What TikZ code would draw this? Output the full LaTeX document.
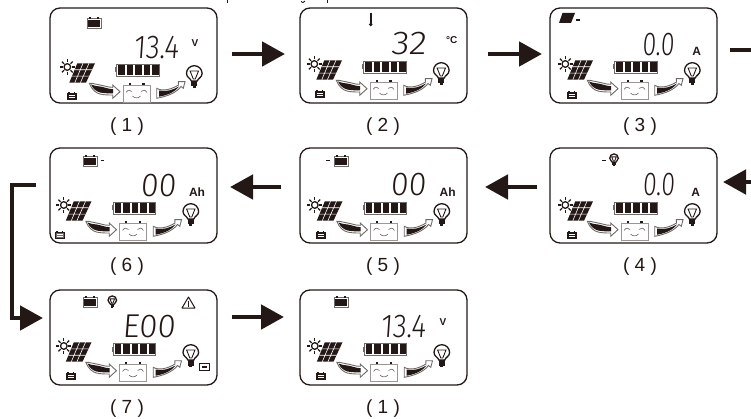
\documentclass[tikz,border=0pt]{standalone}
\usepackage{fontspec}
\usepackage{graphicx}
\setmainfont{Liberation Sans}
\newfontfamily\lcdfont[UprightFont={* Light},FakeSlant=0.08]{Fira Sans}
\usetikzlibrary{arrows.meta,calc}
\definecolor{ink}{HTML}{231815}
\definecolor{soft}{HTML}{6E6A68}
\definecolor{pale}{HTML}{9A9694}
\newcommand\rdg[2]{\scalebox{#1}[1]{#2}}
\tikzset{
  x=1pt,y=-1pt,
  panel/.style={draw=ink,line width=1.3pt,rounded corners=10pt,minimum width=167pt,minimum height=95pt,inner sep=0pt,outer sep=0pt,anchor=north west},
  flow/.style={draw=ink,line width=4.8pt,-{Triangle[length=23pt,width=24pt]}},
  flowplain/.style={draw=ink,line width=4.8pt},
  steplabel/.style={font=\fontsize{19}{19}\selectfont,text=ink,inner sep=0pt},
  reading/.style={font=\lcdfont\fontsize{33}{33}\selectfont,text=ink,inner sep=0pt,text height=23pt,text depth=0pt},
  unitlabel/.style={font=\bfseries\fontsize{12}{12}\selectfont,text=ink,inner sep=0pt},
  tickdash/.style={draw=ink,line width=1.2pt},
}
% bulb centred on the globe
\newcommand\bulbicon[3]{%
\begin{scope}[shift={(#1,#2)},scale=#3]
  \draw[ink,line width=1.3pt,fill=white] (-3,7) .. controls (-3.4,4.5) and (-7.8,3.5) .. (-7.8,-0.5) arc[start angle=180,end angle=360,radius=7.8] .. controls (7.8,3.5) and (3.4,4.5) .. (3,7) -- cycle;
  \draw[ink,line width=.9pt] (-4.2,-3) -- (4.2,-3) -- (1,5) -- (-1,5) -- cycle;
  \fill[ink] (-3,7) rectangle (3,12.5);
  \fill[ink] (-1.6,12.5) rectangle (1.6,14);
\end{scope}}
% battery icon at top of display
\newcommand\batticon[2]{%
\begin{scope}[shift={(#1,#2)}]
  \draw[soft,line width=.7pt,fill=white] (0,1.6) rectangle (14,11);
  \fill[ink] (1.2,3.4) rectangle (12.8,9.8);
  \fill[ink] (2.2,0) rectangle (4.2,1.6);
  \fill[ink] (9.8,0) rectangle (11.8,1.6);
\end{scope}}
% little battery at lower left
\newcommand\smallbatt[3]{%
\begin{scope}[shift={(#1,#2)}]
  \draw[ink,line width=.8pt,fill=#3] (0,1.2) rectangle (9.6,7);
  \fill[ink] (1.2,0) rectangle (2.8,1.2);
  \fill[ink] (6.8,0) rectangle (8.4,1.2);
  \draw[white,line width=.5pt] (2,3.2) -- (7.8,3.2) (2,5) -- (7.8,5);
\end{scope}}
% the parts every display shares
\newcommand\lcdcommon[2]{%
\begin{scope}[shift={(#1,#2)}]
  % sun
  \draw[ink,line width=1.3pt] (14.3,56) circle[radius=3.3];
  \foreach \a in {0,45,...,315}{\draw[ink,line width=1.3pt] ($(14.3,56)+(\a:4.6)$) -- ($(14.3,56)+(\a:7.6)$);}
  % solar array
  \fill[ink] (24.3,52.3) -- (42,52.3) -- (33,71.7) -- (16.3,71.7) -- cycle;
  \draw[white,line width=.6pt] (21.6,58.8) -- (39,58.8) (18.9,65.2) -- (36,65.2)
    (30,52.3) -- (21.8,71.7) (36,52.3) -- (27.4,71.7);
  % charge bar
  \draw[soft,line width=.6pt] (63.5,53) rectangle (106,65);
  \fill[soft] (62,56.5) rectangle (63.5,61.5);
  \foreach \c in {65,73.5,82,90.5,99}{\fill[ink] (\c,54.4) rectangle ++(6.8,9.2);}
  % left flow arrow
  \draw[soft,line width=.9pt,fill=white] (36.3,72.3) .. controls (41,72) and (44,74) .. (47,74) .. controls (51,74.5) and (55,76.5) .. (59.7,76.3) -- (59.7,74) -- (67,80.7) -- (59.7,87.3) -- (59.7,84) .. controls (55,84) and (51,84) .. (47,83) .. controls (43,82) and (39,79) .. (36.3,72.3) -- cycle;
  \fill[ink] (38,73.5) .. controls (42,75) and (45,75.3) .. (47,75.5) .. controls (51,76) and (55,78) .. (60,78.2) -- (60,82.5) .. controls (54,82.5) and (50,82) .. (47,81.5) .. controls (43.5,80.5) and (40,78) .. (38,73.5) -- cycle;
  % right flow arrow
  \draw[soft,line width=.9pt,fill=white] (103.7,77.3) .. controls (110,81) and (119,78) .. (125.5,74) -- (125.3,70.7) -- (132,70.7) -- (130.3,77.3) -- (128,75.5) .. controls (123,82) and (114,85.5) .. (103.7,87.3) -- cycle;
  \fill[ink] (106,79.5) .. controls (113,81) and (120,79) .. (126,75.5) .. controls (122,81) and (114,84.5) .. (106,85.7) -- cycle;
  % charge face
  \draw[pale,line width=.7pt,fill=white] (70,74) rectangle (97,91);
  \fill[ink] (75.5,72) rectangle (77.7,74);
  \fill[ink] (89.3,72) rectangle (91.5,74);
  \draw[soft,line width=.6pt] (73,81.5) .. controls (75,78.5) and (77,78.5) .. (79,80.5)
     (88,80.5) .. controls (90,78.5) and (92,78.5) .. (94,81.5)
     (79.5,85) .. controls (81.5,87.5) and (85.5,87.5) .. (87.5,85);
\end{scope}
\bulbicon{#1+141.3}{#2+63}{1}}
\begin{document}
\begin{tikzpicture}
\useasboundingbox (0,0) rectangle (751,419);
% ---- panels
\node[panel] (p1) at (50,8) {};
\node[panel] (p2) at (300,8) {};
\node[panel] (p3) at (550,8) {};
\node[panel] (p4) at (550,148) {};
\node[panel] (p5) at (300,148) {};
\node[panel] (p6) at (50,148) {};
\node[panel] (p7) at (50,290) {};
\node[panel] (p8) at (300,290) {};
% ---- shared contents
\lcdcommon{53}{11}
\lcdcommon{300}{8}
\lcdcommon{551}{8}
\lcdcommon{551}{149}
\lcdcommon{300.5}{149}
\lcdcommon{49.5}{149}
\lcdcommon{49.5}{290}
\lcdcommon{300.5}{290}
\smallbatt{67}{92}{ink}
\smallbatt{315}{90}{ink}
\smallbatt{567}{91}{ink}
\smallbatt{567}{231}{ink}
\smallbatt{316}{231}{ink}
\smallbatt{55}{231}{soft}
\smallbatt{66}{372}{ink}
\smallbatt{316}{372}{ink}
% ---- readings
\node[reading] (r1) at (156,47.5) {\rdg{.86}{13.4}};
\node[reading] (r2) at (408.5,43.5) {\rdg{1.12}{32}};
\node[reading] (r3) at (658,44) {\rdg{.75}{0.0}};
\node[reading] (r4) at (658.5,184.5) {\rdg{.75}{0.0}};
\node[reading] (r5) at (408,184.5) {\rdg{.97}{00}};
\node[reading] (r6) at (158,185) {\rdg{.97}{00}};
\node[reading] (r7) at (148.5,325.5) {E00};
\node[reading] (r8) at (403,326) {\rdg{.86}{13.4}};
% ---- units
\node[unitlabel,font=\bfseries\fontsize{10}{10}\selectfont] (u1) at (195,43) {V};
\node[unitlabel,font=\bfseries\fontsize{10}{10}\selectfont] (u2) at (451.7,40) {°C};
\node[unitlabel] (u3) at (696.7,51) {A};
\node[unitlabel] (u4) at (695.7,192) {A};
\node[unitlabel] (u5) at (447.7,192) {Ah};
\node[unitlabel] (u6) at (197,192) {Ah};
\node[unitlabel,font=\bfseries\fontsize{10}{10}\selectfont] (u8) at (443,321.7) {V};
% ---- mode icons at top
\batticon{87}{17}
\draw[ink,line width=1.8pt] (370.7,13) -- (370.7,24);
\fill[ink] (370.7,24.5) circle[radius=1.9];
\fill[ink] (562.5,13) -- (575,13) -- (571,23) -- (559,23) -- cycle;
\draw[tickdash] (576,20) -- (579.5,20);
\draw[tickdash] (602,160.7) -- (605.5,160.7);
\bulbicon{614}{158.5}{.55}
\draw[tickdash] (326,160.7) -- (329.5,160.7);
\batticon{334}{155}
\batticon{83}{155}
\draw[tickdash] (100.5,160.7) -- (104,160.7);
\batticon{83}{296}
\bulbicon{112.3}{300.5}{.55}
\draw[ink,line width=1pt,line join=round] (188.5,297) -- (195,308) -- (182,308) -- cycle;
\draw[ink,line width=1.1pt] (188.5,300.5) -- (188.5,304.5) (188.5,305.4) -- (188.5,306.6);
\batticon{334}{296}
\draw[ink,line width=.8pt] (199.5,363.5) rectangle (209,370);
\fill[ink] (201.5,365.5) rectangle (207,368);
% ---- step labels
\node[steplabel] (l1) at (127,126.5) {( 1 )};
\node[steplabel] (l2) at (383,126.5) {( 2 )};
\node[steplabel] (l3) at (640,126.5) {( 3 )};
\node[steplabel] (l4) at (640,266.5) {( 4 )};
\node[steplabel] (l5) at (383,266.5) {( 5 )};
\node[steplabel] (l6) at (127,266.5) {( 6 )};
\node[steplabel] (l7) at (127,409) {( 7 )};
\node[steplabel] (l8) at (383,409) {( 1 )};
% ---- connectors
\coordinate (edgeA) at (751,50);
\coordinate (edgeB) at (751,182);
\coordinate (rail) at (12,250);
\draw[flow] ([shift={(15,-1.5)}]p1.east) -- ([shift={(-15,-1.5)}]p2.west);
\draw[flow] ([shift={(21,-1.5)}]p2.east) -- ([shift={(-8,-1.5)}]p3.west);
\draw[flowplain] ([shift={(13,-5.5)}]p3.east) -- (edgeA);
\draw[flow] (edgeB) -- ([shift={(6,-13.5)}]p4.east);
\draw[flow] ([shift={(-13,-8.5)}]p4.west) -- ([shift={(18,-8.5)}]p5.east);
\draw[flow] ([shift={(-19,-8.5)}]p5.west) -- ([shift={(13,-8.5)}]p6.east);
\draw[flow] ([shift={(-14,-10.5)}]p6.west) -| (rail) |- ([shift={(-7,-19.5)}]p7.west);
\draw[flow] ([shift={(15,-20.5)}]p7.east) -- ([shift={(-16,-20.5)}]p8.west);
% ---- cropped line of print at the top edge
\draw[ink,line width=1pt] (227,0) -- (227,3) (327,0) -- (327,3);
\draw[ink,line width=.9pt] (301,1.5) .. controls (302,3) and (304,3) .. (305,1);
\end{tikzpicture}
\end{document}
